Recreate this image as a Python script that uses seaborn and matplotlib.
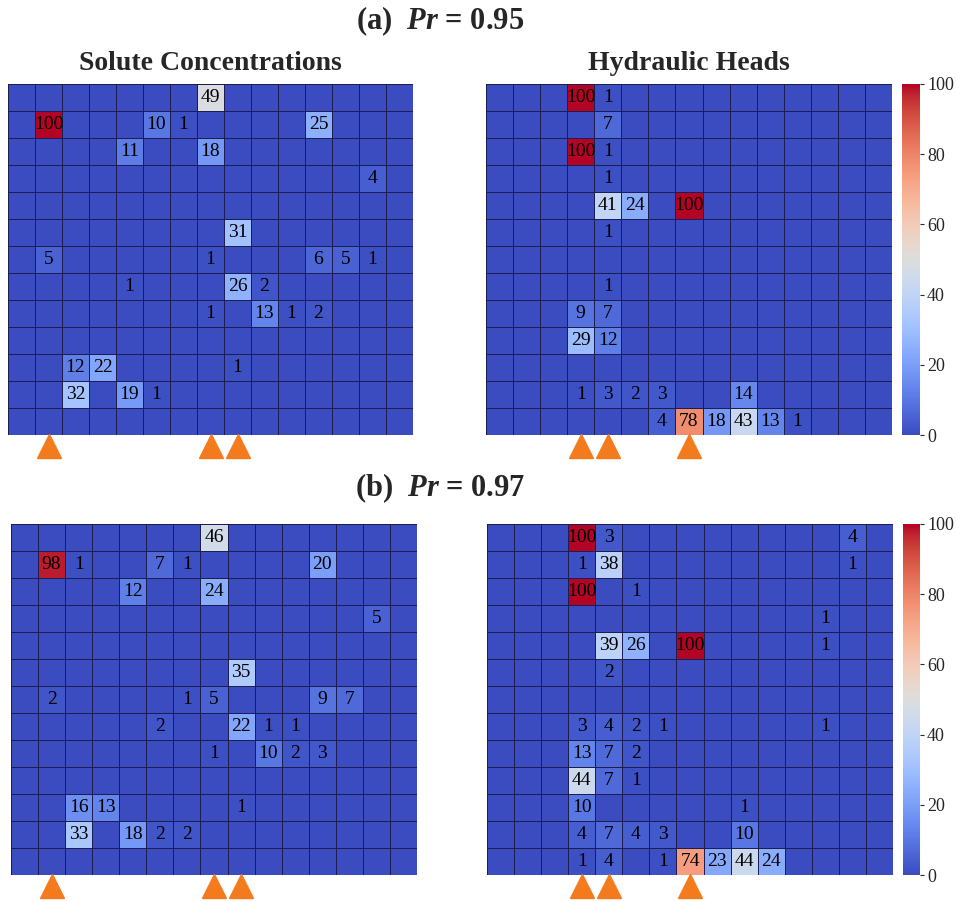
import matplotlib
matplotlib.use("Agg")
import matplotlib.pyplot as plt
import numpy as np
import seaborn as sns

# 13 rows x 15 columns, frequency (%) of each cell being selected
solute_a = [
    [0, 0, 0, 0, 0, 0, 0, 49, 0, 0, 0, 0, 0, 0, 0],
    [0, 100, 0, 0, 0, 10, 1, 0, 0, 0, 0, 25, 0, 0, 0],
    [0, 0, 0, 0, 11, 0, 0, 18, 0, 0, 0, 0, 0, 0, 0],
    [0, 0, 0, 0, 0, 0, 0, 0, 0, 0, 0, 0, 0, 4, 0],
    [0, 0, 0, 0, 0, 0, 0, 0, 0, 0, 0, 0, 0, 0, 0],
    [0, 0, 0, 0, 0, 0, 0, 0, 31, 0, 0, 0, 0, 0, 0],
    [0, 5, 0, 0, 0, 0, 0, 1, 0, 0, 0, 6, 5, 1, 0],
    [0, 0, 0, 0, 1, 0, 0, 0, 26, 2, 0, 0, 0, 0, 0],
    [0, 0, 0, 0, 0, 0, 0, 1, 0, 13, 1, 2, 0, 0, 0],
    [0, 0, 0, 0, 0, 0, 0, 0, 0, 0, 0, 0, 0, 0, 0],
    [0, 0, 12, 22, 0, 0, 0, 0, 1, 0, 0, 0, 0, 0, 0],
    [0, 0, 32, 0, 19, 1, 0, 0, 0, 0, 0, 0, 0, 0, 0],
    [0, 0, 0, 0, 0, 0, 0, 0, 0, 0, 0, 0, 0, 0, 0],
]
heads_a = [
    [0, 0, 0, 100, 1, 0, 0, 0, 0, 0, 0, 0, 0, 0, 0],
    [0, 0, 0, 0, 7, 0, 0, 0, 0, 0, 0, 0, 0, 0, 0],
    [0, 0, 0, 100, 1, 0, 0, 0, 0, 0, 0, 0, 0, 0, 0],
    [0, 0, 0, 0, 1, 0, 0, 0, 0, 0, 0, 0, 0, 0, 0],
    [0, 0, 0, 0, 41, 24, 0, 100, 0, 0, 0, 0, 0, 0, 0],
    [0, 0, 0, 0, 1, 0, 0, 0, 0, 0, 0, 0, 0, 0, 0],
    [0, 0, 0, 0, 0, 0, 0, 0, 0, 0, 0, 0, 0, 0, 0],
    [0, 0, 0, 0, 1, 0, 0, 0, 0, 0, 0, 0, 0, 0, 0],
    [0, 0, 0, 9, 7, 0, 0, 0, 0, 0, 0, 0, 0, 0, 0],
    [0, 0, 0, 29, 12, 0, 0, 0, 0, 0, 0, 0, 0, 0, 0],
    [0, 0, 0, 0, 0, 0, 0, 0, 0, 0, 0, 0, 0, 0, 0],
    [0, 0, 0, 1, 3, 2, 3, 0, 0, 14, 0, 0, 0, 0, 0],
    [0, 0, 0, 0, 0, 0, 4, 78, 18, 43, 13, 1, 0, 0, 0],
]
solute_b = [
    [0, 0, 0, 0, 0, 0, 0, 46, 0, 0, 0, 0, 0, 0, 0],
    [0, 98, 1, 0, 0, 7, 1, 0, 0, 0, 0, 20, 0, 0, 0],
    [0, 0, 0, 0, 12, 0, 0, 24, 0, 0, 0, 0, 0, 0, 0],
    [0, 0, 0, 0, 0, 0, 0, 0, 0, 0, 0, 0, 0, 5, 0],
    [0, 0, 0, 0, 0, 0, 0, 0, 0, 0, 0, 0, 0, 0, 0],
    [0, 0, 0, 0, 0, 0, 0, 0, 35, 0, 0, 0, 0, 0, 0],
    [0, 2, 0, 0, 0, 0, 1, 5, 0, 0, 0, 9, 7, 0, 0],
    [0, 0, 0, 0, 0, 2, 0, 0, 22, 1, 1, 0, 0, 0, 0],
    [0, 0, 0, 0, 0, 0, 0, 1, 0, 10, 2, 3, 0, 0, 0],
    [0, 0, 0, 0, 0, 0, 0, 0, 0, 0, 0, 0, 0, 0, 0],
    [0, 0, 16, 13, 0, 0, 0, 0, 1, 0, 0, 0, 0, 0, 0],
    [0, 0, 33, 0, 18, 2, 2, 0, 0, 0, 0, 0, 0, 0, 0],
    [0, 0, 0, 0, 0, 0, 0, 0, 0, 0, 0, 0, 0, 0, 0],
]
heads_b = [
    [0, 0, 0, 100, 3, 0, 0, 0, 0, 0, 0, 0, 0, 4, 0],
    [0, 0, 0, 1, 38, 0, 0, 0, 0, 0, 0, 0, 0, 1, 0],
    [0, 0, 0, 100, 0, 1, 0, 0, 0, 0, 0, 0, 0, 0, 0],
    [0, 0, 0, 0, 0, 0, 0, 0, 0, 0, 0, 0, 1, 0, 0],
    [0, 0, 0, 0, 39, 26, 0, 100, 0, 0, 0, 0, 1, 0, 0],
    [0, 0, 0, 0, 2, 0, 0, 0, 0, 0, 0, 0, 0, 0, 0],
    [0, 0, 0, 0, 0, 0, 0, 0, 0, 0, 0, 0, 0, 0, 0],
    [0, 0, 0, 3, 4, 2, 1, 0, 0, 0, 0, 0, 1, 0, 0],
    [0, 0, 0, 13, 7, 2, 0, 0, 0, 0, 0, 0, 0, 0, 0],
    [0, 0, 0, 44, 7, 1, 0, 0, 0, 0, 0, 0, 0, 0, 0],
    [0, 0, 0, 10, 0, 0, 0, 0, 0, 1, 0, 0, 0, 0, 0],
    [0, 0, 0, 4, 7, 4, 3, 0, 0, 10, 0, 0, 0, 0, 0],
    [0, 0, 0, 1, 4, 0, 1, 74, 23, 44, 24, 0, 0, 0, 0],
]

# well columns marked by triangles under each grid
solute_wells = [1, 7, 8]
heads_wells = [3, 4, 7]

panel_titles = ["(a)  $Pr$ = 0.95", "(b)  $Pr$ = 0.97"]
col_titles = ["Solute Concentrations", "Hydraulic Heads"]

W, H = 956, 901


def draw_grid(ax, data, wells, cbar_ax=None):
    arr = np.array(data)
    labels = np.where(arr == 0, "", arr.astype(str))
    sns.heatmap(
        arr, ax=ax, cmap="coolwarm", vmin=0, vmax=100,
        annot=labels, fmt="", annot_kws={"color": "black", "fontsize": 14},
        linewidths=0.6, linecolor="#1c1d50",
        cbar=cbar_ax is not None, cbar_ax=cbar_ax,
        xticklabels=False, yticklabels=False,
    )
    ax.plot(np.array(wells) + 0.5, [13.42] * len(wells), "^",
            color="#f37b1d", markersize=17, clip_on=False)
    if cbar_ax is not None:
        cbar_ax.set_yticks([0, 20, 40, 60, 80, 100])
        cbar_ax.tick_params(labelsize=13, length=3, width=0.8, pad=2)


def main():
    sns.set_style("white")
    plt.rcParams["font.family"] = ["Liberation Serif", "DejaVu Serif"]
    plt.rcParams["mathtext.fontset"] = "custom"
    plt.rcParams["mathtext.it"] = "Liberation Serif:bold:italic"
    plt.rcParams["mathtext.rm"] = "Liberation Serif:bold"

    fig = plt.figure(figsize=(W / 100, H / 100), dpi=100)

    def rect(x0, x1, y0, y1):
        return [x0 / W, 1 - y1 / H, (x1 - x0) / W, (y1 - y0) / H]

    rows = [
        (solute_a, heads_a, 84, 435, [8, 413], [486, 892], [902, 920]),
        (solute_b, heads_b, 524, 875, [11, 417], [487, 893], [903, 920]),
    ]
    for i, (sol, hed, y0, y1, xl, xr, xc) in enumerate(rows):
        ax_l = fig.add_axes(rect(xl[0], xl[1], y0, y1))
        ax_r = fig.add_axes(rect(xr[0], xr[1], y0, y1))
        cax = fig.add_axes(rect(xc[0], xc[1], y0, y1))
        draw_grid(ax_l, sol, solute_wells)
        draw_grid(ax_r, hed, heads_wells, cbar_ax=cax)

        ty = 21 if i == 0 else 488
        fig.text(440 / W, 1 - ty / H, panel_titles[i], ha="center", va="center",
                 fontsize=22, fontweight="bold")
        if i == 0:
            ax_l.set_title(col_titles[0], fontsize=20, fontweight="bold", pad=10)
            ax_r.set_title(col_titles[1], fontsize=20, fontweight="bold", pad=10)

    fig.savefig("out.png", dpi=100)


if __name__ == "__main__":
    main()
